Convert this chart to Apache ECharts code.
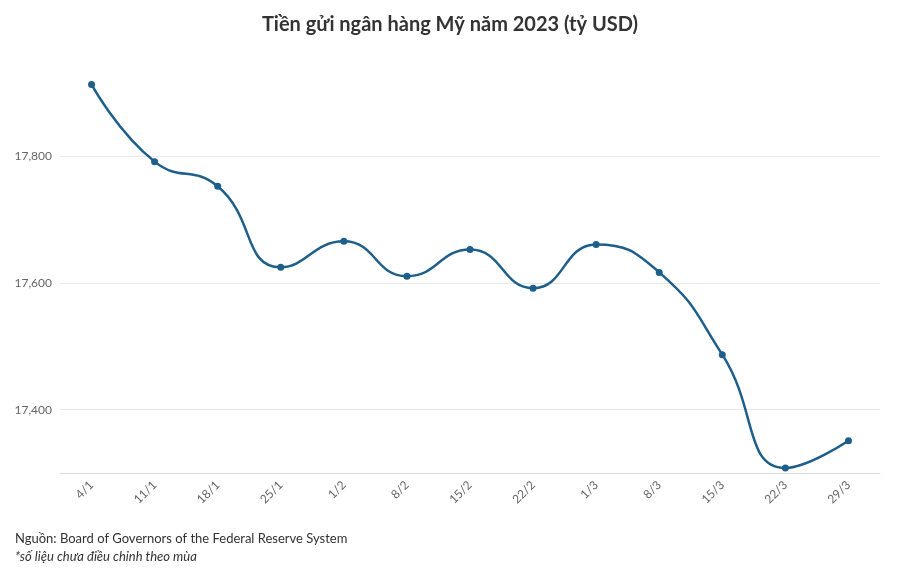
<!DOCTYPE html>
<html><head><meta charset="utf-8">
<script src="https://cdn.jsdelivr.net/npm/echarts@6/dist/echarts.min.js"></script>
<style>body{margin:0}#main{width:900px;height:575px}</style>
</head><body><div id="main"></div>
<script>
var myChart = echarts.init(document.getElementById('main'));

var dates = ['4/1','11/1','18/1','25/1','1/2','8/2','15/2','22/2','1/3','8/3','15/3','22/3','29/3'];
var deposits = [17914,17792,17753,17625,17666,17611,17653,17592,17661,17617,17487,17308,17351];
var gridLines = [17400,17600,17800];

var option = {
  textStyle: { fontFamily: 'Lato, "Noto Sans", sans-serif' },
  title: [{
    text: 'Tiền gửi ngân hàng Mỹ năm 2023 (tỷ USD)',
    left: 'center', top: 10,
    textStyle: { fontSize: 20, fontWeight: 'bold', color: '#333' }
  }, {
    text: 'Nguồn: Board of Governors of the Federal Reserve System',
    left: 10, top: 527,
    textStyle: { fontSize: 13, fontWeight: 'normal', color: '#333' }
  }, {
    text: '*số liệu chưa điều chỉnh theo mùa',
    left: 10, top: 545,
    textStyle: { fontSize: 13, fontWeight: 'normal', fontStyle: 'italic', color: '#333' }
  }],
  grid: { left: 60, right: 20, top: 30, bottom: 102 },
  xAxis: {
    type: 'category', data: dates, boundaryGap: true,
    axisLine: { lineStyle: { color: '#ddd' } },
    axisTick: { show: false },
    axisLabel: { rotate: 45, color: '#666', fontSize: 12, margin: 10 }
  },
  yAxis: {
    type: 'value', min: 17300, max: 18000, interval: 100,
    axisLine: { show: false }, axisTick: { show: false },
    splitLine: { show: false },
    axisLabel: {
      color: '#666', fontSize: 12,
      formatter: function (v) { return v % 200 === 0 && v > 17300 && v < 18000 ? v.toLocaleString('en-US') : ''; }
    }
  },
  series: [{
    type: 'line', data: deposits, smooth: true,
    symbol: 'circle', symbolSize: 7,
    lineStyle: { color: '#1d5f8a', width: 2.5 },
    itemStyle: { color: '#1d5f8a' },
    markLine: {
      silent: true, symbol: 'none', label: { show: false }, z: 1,
      lineStyle: { color: '#e8e8e8', type: 'solid', width: 1 },
      data: gridLines.map(function (v) { return { yAxis: v }; })
    },
    z: 3
  }]
};
myChart.setOption(option);
</script></body></html>
